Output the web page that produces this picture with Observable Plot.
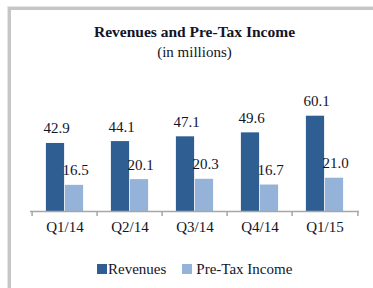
<!DOCTYPE html>
<html>
<head>
<meta charset="utf-8">
<script src="https://cdn.jsdelivr.net/npm/d3@7"></script>
<script src="https://cdn.jsdelivr.net/npm/@observablehq/plot@0.6"></script>
<style>
  html, body { margin: 0; padding: 0; background: #fff; }
  body { width: 373px; height: 288px; position: relative; overflow: hidden; font-family: "Liberation Serif", "DejaVu Serif", serif; color: #141428; }
  #frame { position: absolute; left: 8px; top: 7px; width: 400px; height: 300px; border-top: 3px solid #c6c6c6; border-left: 3px solid #c6c6c6; box-shadow: -1px -1px 0 #e6e6e6; }
  #title { position: absolute; left: 16px; width: 357px; top: 23px; text-align: center; font-weight: bold; font-size: 15.5px; line-height: 18px; }
  #subtitle { position: absolute; left: 16px; width: 357px; top: 43px; text-align: center; font-size: 15px; line-height: 18px; }
  #chart { position: absolute; left: 0; top: 0; }
  #legend { position: absolute; top: 261px; left: 97px; display: flex; align-items: center; font-size: 15px; line-height: 16px; white-space: nowrap; }
  .sw { width: 10px; height: 10px; display: inline-block; }
</style>
</head>
<body>
<div id="frame"></div>
<div id="title">Revenues and Pre-Tax Income</div>
<div id="subtitle">(in millions)</div>
<div id="chart"></div>
<div id="legend"></div>
<script>
const quarters = ["Q1/14", "Q2/14", "Q3/14", "Q4/14", "Q1/15"];
const seriesNames = ["Revenues", "Pre-Tax Income"];
const revenues = [42.9, 44.1, 47.1, 49.6, 60.1];
const pretax = [16.5, 20.1, 20.3, 16.7, 21.0];
const colors = ["#2f5e93", "#95b3d9"];

const data = [];
quarters.forEach((q, i) => {
  data.push({quarter: q, series: seriesNames[0], value: revenues[i]});
  data.push({quarter: q, series: seriesNames[1], value: pretax[i]});
});

const W = 373, H = 288, ML = 30, MR = 14, MT = 100, MB = 77;
const plotH = H - MT - MB;
const bw = (W - ML - MR) / quarters.length;
const barW = 19;
const rev = data.filter(d => d.series === seriesNames[0]);
const inc = data.filter(d => d.series === seriesNames[1]);
const fmt = d3.format(".1f");
const labelFont = {fontSize: 15, fontFamily: "Liberation Serif, serif", fill: "#141428"};
const tickStyle = {stroke: "#a6a6a6", strokeWidth: 1.5, insetTop: plotH, insetBottom: -5};

const chart = Plot.plot({
  width: W, height: H,
  marginLeft: ML, marginRight: MR, marginTop: MT, marginBottom: MB,
  style: {background: "transparent", overflow: "visible"},
  x: {type: "band", domain: quarters, padding: 0, label: null},
  y: {domain: [0, 70], axis: null},
  marks: [
    Plot.barY(rev, {x: "quarter", y: "value", fill: colors[0], insetLeft: bw / 2 - barW, insetRight: bw / 2}),
    Plot.barY(inc, {x: "quarter", y: "value", fill: colors[1], insetLeft: bw / 2, insetRight: bw / 2 - barW}),
    Plot.ruleY([0], {stroke: "#a6a6a6", strokeWidth: 1.5}),
    Plot.ruleX(quarters, {x: d => d, dx: -bw / 2, ...tickStyle}),
    Plot.ruleX([quarters[quarters.length - 1]], {x: d => d, dx: bw / 2, ...tickStyle}),
    Plot.text(rev, {x: "quarter", y: "value", text: d => fmt(d.value), dx: -barW / 2 + 1, dy: -10, lineAnchor: "bottom", ...labelFont}),
    Plot.text(inc, {x: "quarter", y: "value", text: d => fmt(d.value), dx: barW / 2 + 1, dy: -10, lineAnchor: "bottom", ...labelFont}),
    Plot.axisX({tickSize: 0, tickPadding: 10, fontSize: 15, fontFamily: "Liberation Serif, serif", fill: "#141428", label: null})
  ]
});
document.getElementById("chart").appendChild(chart);

const legend = document.getElementById("legend");
seriesNames.forEach((name, i) => {
  const sw = document.createElement("span");
  sw.className = "sw";
  sw.style.background = colors[i];
  sw.style.marginLeft = i === 0 ? "0px" : "16px";
  sw.style.marginRight = i === 0 ? "1px" : "4px";
  const t = document.createElement("span");
  t.textContent = name;
  legend.appendChild(sw);
  legend.appendChild(t);
});
</script>
</body>
</html>
